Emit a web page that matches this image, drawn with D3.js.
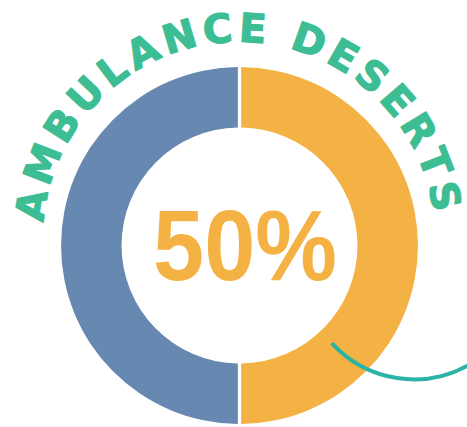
<!DOCTYPE html>
<html>
<head>
<meta charset="utf-8">
<script src="https://cdn.jsdelivr.net/npm/d3@7/dist/d3.min.js"></script>
<style>
  html, body { margin: 0; padding: 0; background: #ffffff; }
  svg { display: block; }
</style>
</head>
<body>
<script>
// Share of counties that are ambulance deserts
const categories = ["Ambulance desert", "Covered"];
const shares = [50, 50];
const sliceColors = ["#f5b244", "#6789b1"];
const title = "AMBULANCE DESERTS";

const W = 467, H = 427;
const cx = 239.5, cy = 245.5;
const outerR = 178.5, innerR = 118;

const svg = d3.select("body").append("svg")
  .attr("width", W).attr("height", H);

// Donut: the highlighted share runs clockwise from 12 o'clock
const pie = d3.pie().sort(null).value(d => d)
  .startAngle(0).endAngle(2 * Math.PI);
const arc = d3.arc()
  .innerRadius(innerR).outerRadius(outerR)
  .padAngle(0.033).padRadius(100);

const g = svg.append("g").attr("transform", `translate(${cx},${cy})`);
g.selectAll("path.slice")
  .data(pie(shares))
  .join("path")
  .attr("class", "slice")
  .attr("d", arc)
  .attr("fill", (d, i) => sliceColors[i]);

// Big percentage in the middle
svg.append("text")
  .attr("x", 245).attr("y", 280)
  .attr("text-anchor", "middle")
  .attr("font-family", "'Liberation Sans', Arial, sans-serif")
  .attr("font-weight", "bold")
  .attr("font-size", 100)
  .attr("textLength", 184)
  .attr("lengthAdjust", "spacingAndGlyphs")
  .attr("fill", sliceColors[0])
  .text(d3.format(".0f")(shares[0]) + "%");

// Curved title: each letter is set on a circle above the donut
const tcx = 239, tcy = 238, baseR = 196;
const fontSize = 40;
const spanDeg = [-81, 78.5];         // angles of first and last letter centres
const titleG = svg.append("g")
  .attr("font-family", "'DejaVu Sans', sans-serif")
  .attr("font-weight", "bold")
  .attr("font-size", fontSize)
  .attr("fill", "#3dbd94")
  .attr("stroke", "#3dbd94")
  .attr("stroke-width", 1.2)
  .attr("stroke-linejoin", "round");

const chars = Array.from(title);
// measure advance widths
const probe = titleG.append("text");
const widths = chars.map(c => {
  probe.text(c === " " ? "\u00a0" : c);
  return probe.node().getComputedTextLength();
});
probe.remove();

let centres = [];
let acc = 0;
widths.forEach((w, i) => { centres.push(acc + w / 2); acc += w; });
const natural = centres[centres.length - 1] - centres[0];
const spanLen = (spanDeg[1] - spanDeg[0]) * Math.PI / 180 * baseR;
const gap = (spanLen - natural) / (chars.length - 1);
centres = centres.map((c, i) => c - centres[0] + i * gap);

const angleOf = d3.scaleLinear()
  .domain([0, spanLen])
  .range(spanDeg);

chars.forEach((c, i) => {
  if (c === " ") return;
  const deg = angleOf(centres[i]);
  const rad = deg * Math.PI / 180;
  const x = tcx + baseR * Math.sin(rad);
  const y = tcy - baseR * Math.cos(rad);
  titleG.append("text")
    .attr("text-anchor", "middle")
    .attr("transform", `translate(${x},${y}) rotate(${deg})`)
    .text(c);
});

// Teal connector curve at lower right
const lp = d3.path();
const lx = 414, ly = 268, lr = 111.4;
lp.arc(lx, ly, lr, Math.atan2(343 - ly, 332 - lx), Math.atan2(365 - ly, 470 - lx), true);
svg.append("path")
  .attr("d", lp.toString())
  .attr("fill", "none")
  .attr("stroke", "#2bb3a6")
  .attr("stroke-width", 4);
</script>
</body>
</html>
